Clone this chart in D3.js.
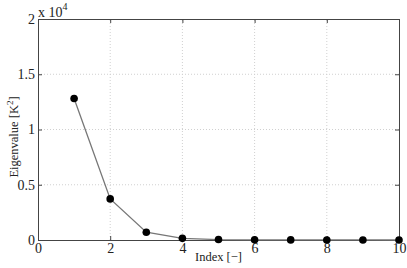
<!DOCTYPE html>
<html>
<head>
<meta charset="utf-8">
<script src="https://cdn.jsdelivr.net/npm/d3@7"></script>
<style>
body { margin: 0; background: #fff; }
</style>
</head>
<body>
<div id="view"></div>
<script>
// eigenvalue spectrum
var index = [1, 2, 3, 4, 5, 6, 7, 8, 9, 10];
var eigenvalues = [12800, 3720, 700, 150, 40, 15, 8, 5, 3, 2];
var xTicks = [0, 2, 4, 6, 8, 10];
var yTicks = [0, 5000, 10000, 15000, 20000];
var yTickLabels = ["0", "0.5", "1", "1.5", "2"];
var FONT = "'Liberation Serif', 'DejaVu Serif', serif";

function chart(){
	var W = 407, H = 268;
	var m = {left: 38, right: 8, top: 19, bottom: 28};

	var svg = d3.select("#view")
		.append("svg")
		.attr("id", "main-svg")
		.attr("width", W)
		.attr("height", H);

	var x = d3.scaleLinear().domain([0, 10]).range([m.left, W - m.right]);
	var y = d3.scaleLinear().domain([0, 20000]).range([H - m.bottom, m.top]);

	// dotted grid
	svg.selectAll(".gx").data(xTicks.slice(1, -1))
	   .enter().append("line")
		.attr("x1", function(d){return x(d);})
		.attr("x2", function(d){return x(d);})
		.attr("y1", y(0)).attr("y2", y(20000))
		.style("stroke", "#d0d0d0")
		.style("stroke-dasharray", "1,2");
	svg.selectAll(".gy").data(yTicks.slice(1, -1))
	   .enter().append("line")
		.attr("y1", function(d){return y(d);})
		.attr("y2", function(d){return y(d);})
		.attr("x1", x(0)).attr("x2", x(10))
		.style("stroke", "#d0d0d0")
		.style("stroke-dasharray", "1,2");

	// axes (ticks inward, box round the plot)
	var bottom = d3.axisBottom(x).tickValues(xTicks).tickSizeInner(-4).tickSizeOuter(0).tickPadding(3);
	var top = d3.axisTop(x).tickValues(xTicks).tickSizeInner(-4).tickSizeOuter(0).tickFormat("");
	var left = d3.axisLeft(y).tickValues(yTicks).tickSizeInner(-4).tickSizeOuter(0).tickPadding(3)
		.tickFormat(function(d, i){return yTickLabels[i];});
	var right = d3.axisRight(y).tickValues(yTicks).tickSizeInner(-4).tickSizeOuter(0).tickFormat("");

	svg.append("g").attr("transform", "translate(0," + y(0) + ")").call(bottom);
	svg.append("g").attr("transform", "translate(0," + y(20000) + ")").call(top);
	svg.append("g").attr("transform", "translate(" + x(0) + ",0)").call(left);
	svg.append("g").attr("transform", "translate(" + x(10) + ",0)").call(right);

	svg.selectAll(".domain, .tick line").style("stroke", "#444").style("stroke-width", 1);
	svg.selectAll(".tick text")
		.style("font-family", FONT)
		.style("font-size", "14px").style("fill", "#222");

	// multiplier
	var mult = svg.append("text")
		.attr("x", x(0)).attr("y", y(20000) - 2)
		.style("font-family", FONT)
		.style("font-size", "14px").style("fill", "#222");
	mult.append("tspan").text("x 10");
	mult.append("tspan").attr("dy", -7).style("font-size", "10px").text("4");

	// series
	var line = d3.line()
		.x(function(d, i){return x(index[i]);})
		.y(function(d){return y(d);});
	svg.append("path")
		.datum(eigenvalues)
		.attr("d", line)
		.style("fill", "none")
		.style("stroke", "#777")
		.style("stroke-width", 1.3);
	svg.selectAll(".pt").data(eigenvalues)
	   .enter().append("circle")
		.attr("cx", function(d, i){return x(index[i]);})
		.attr("cy", function(d){return y(d);})
		.attr("r", 3.8)
		.style("fill", "#000");

	// labels
	svg.append("text")
		.attr("x", (x(0) + x(10)) / 2).attr("y", 261)
		.attr("text-anchor", "middle")
		.style("font-family", FONT)
		.style("font-size", "12.5px").style("fill", "#222")
		.text("Index [\u2212]");
	var yl = svg.append("text")
		.attr("transform", "translate(18,137) rotate(-90)")
		.attr("text-anchor", "middle")
		.style("font-family", FONT)
		.style("font-size", "12.5px").style("fill", "#222");
	yl.append("tspan").text("Eigenvalue [K");
	yl.append("tspan").attr("dy", -5).style("font-size", "9px").text("2");
	yl.append("tspan").attr("dy", 5).text("]");
}

chart();
</script>
</body>
</html>
